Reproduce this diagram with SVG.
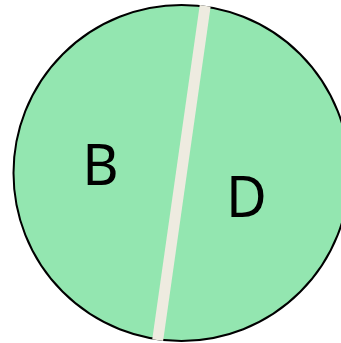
<svg xmlns="http://www.w3.org/2000/svg" width="341" height="343" viewBox="0 0 341 343">
<style>
.lbl{font-family:"Noto Sans",sans-serif;font-size:56px;fill:#000;text-anchor:middle}
</style>
<defs>
<clipPath id="c"><circle cx="181.5" cy="173" r="169"/></clipPath>
</defs>
<rect width="341" height="343" fill="#fff"/>
<g id="disk">
<circle cx="181.5" cy="173" r="168" fill="#93E6B0" stroke="#000" stroke-width="2"/>
</g>
<g id="connectors">
<line x1="206" y1="0" x2="157" y2="345" stroke="#EEEBE0" stroke-width="11" clip-path="url(#c)"/>
</g>
<g id="B"><text class="lbl" x="100.5" y="184.7">B</text></g>
<g id="D"><text class="lbl" x="246.5" y="216.7">D</text></g>
</svg>
